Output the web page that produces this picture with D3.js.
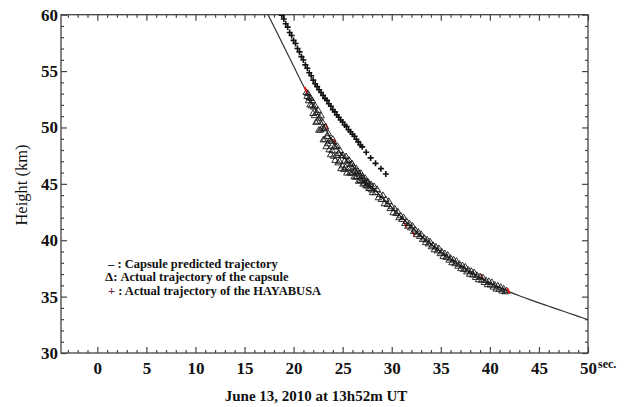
<!DOCTYPE html>
<html>
<head>
<meta charset="utf-8">
<script src="https://cdn.jsdelivr.net/npm/d3@7/dist/d3.min.js"></script>
<style>
  html, body { margin: 0; padding: 0; background: #fff; }
  svg { display: block; }
</style>
</head>
<body>
<svg id="chart" width="631" height="407"></svg>
<script>
// ---------------- DATA ----------------
const xTickLabels = [0, 5, 10, 15, 20, 25, 30, 35, 40, 45, 50];
const yTickLabels = [30, 35, 40, 45, 50, 55, 60];

// Capsule predicted trajectory (time s, height km)
const predT = [17.4, 18, 19, 20, 21, 21.3, 22, 23, 24, 25, 26, 27, 28, 29, 30, 31, 32, 33, 34, 35, 36, 37, 38, 39, 40, 41, 42, 43, 44, 45, 46, 47, 48, 49, 50];
const predH = [60.0, 58.95, 57.2, 55.45, 53.7, 53.2, 52.0, 50.3, 48.75, 47.5, 46.55, 45.6, 44.7, 43.81, 42.92, 42.04, 41.2, 40.37, 39.65, 38.98, 38.35, 37.76, 37.2, 36.67, 36.2, 35.78, 35.42, 35.08, 34.76, 34.45, 34.15, 33.85, 33.55, 33.25, 32.95];

// Actual trajectory of the capsule (triangles)
const capT = [21.30,21.38,21.45,21.53,21.60,21.68,21.75,21.83,21.90,21.98,22.05,22.13,22.20,22.28,22.35,22.43,22.50,22.58,22.65,22.73,22.80,22.88,22.95,23.03,23.10,23.18,23.25,23.33,23.40,23.48,23.55,23.63,23.70,23.78,23.85,23.93,24.00,24.08,24.15,24.23,24.30,24.38,24.45,24.53,24.60,24.68,24.75,24.83,24.90,24.98,25.05,25.13,25.20,25.28,25.35,25.43,25.50,25.58,25.65,25.73,25.80,25.88,25.95,26.03,26.10,26.18,26.25,26.33,26.40,26.48,26.55,26.63,26.70,26.78,26.85,26.93,27.00,27.08,27.15,27.23,27.30,27.38,27.45,27.53,27.60,27.68,27.75,27.83,27.90,27.98,
  28.05,28.20,28.35,28.50,28.65,28.80,28.95,29.10,29.25,29.40,29.55,29.70,29.85,30.00,30.15,30.30,30.45,30.60,30.75,30.90,31.05,31.20,31.35,31.50,31.65,31.80,31.95,32.10,32.25,32.40,32.55,32.70,32.85,33.00,33.15,33.30,33.45,33.60,33.75,33.90,34.05,34.20,34.35,34.50,34.65,34.80,34.95,35.10,35.25,35.40,35.55,35.70,35.85,36.00,36.15,36.30,36.45,36.60,36.75,36.90,37.05,37.20,37.35,37.50,37.65,37.80,37.95,38.10,38.25,38.40,38.55,38.70,38.85,39.00,39.15,39.30,39.45,39.60,39.75,39.90,40.05,40.20,40.35,40.50,40.65,40.80,40.95,41.10,41.25,41.40,41.55,41.70];
const capH = [53.15,52.80,53.07,52.42,52.70,52.05,52.62,51.97,52.44,51.29,51.86,51.10,51.96,50.50,51.37,50.60,51.57,49.81,50.88,49.82,51.08,49.93,50.50,48.95,49.94,49.00,50.08,48.35,49.24,48.61,49.50,48.07,48.86,47.63,48.82,48.00,49.00,47.50,48.32,47.13,48.36,47.57,48.40,46.91,47.74,47.05,47.98,46.40,47.54,46.65,47.57,46.32,47.07,46.51,47.47,46.01,47.07,46.41,47.16,46.01,46.76,46.00,46.85,46.04,46.57,45.68,46.21,45.64,46.38,45.71,46.15,45.28,45.92,45.35,45.99,45.33,45.70,45.03,45.47,45.10,45.54,44.88,45.23,44.86,45.20,44.64,44.99,44.62,44.97,44.51,
  44.26,44.82,44.29,44.56,43.82,44.09,43.66,44.02,43.29,43.66,43.22,43.49,42.86,43.02,42.49,42.85,42.42,42.58,42.05,42.22,41.89,42.07,41.54,41.72,41.29,41.52,41.14,41.32,40.84,40.97,40.54,40.77,40.39,40.57,40.11,40.25,39.84,40.08,39.73,39.92,39.47,39.61,39.21,39.46,39.11,39.31,38.86,39.02,38.62,38.87,38.53,38.73,38.29,38.45,38.06,38.32,37.98,38.19,37.75,37.92,37.53,37.80,37.46,37.68,37.25,37.41,37.03,37.30,36.97,37.18,36.75,36.93,36.55,36.82,36.50,36.73,36.30,36.48,36.11,36.40,36.08,36.31,35.90,36.08,35.72,36.01,35.70,35.89,35.54,35.74,35.48,35.58];

// Actual trajectory of the HAYABUSA (crosses)
const hayT = [18.80,19.00,19.20,19.40,19.60,19.80,20.00,20.20,20.40,20.60,20.80,21.00,21.20,21.40,21.60,21.80,22.00,22.20,22.40,22.60,22.80,23.00,23.20,23.40,23.60,23.80,24.00,24.20,24.40,24.60,24.80,25.00,25.20,25.40,25.60,25.80,26.00,26.20,26.40,26.60,26.80,27.00,27.40,27.85,28.35,28.90,29.40];
const hayH = [59.95,59.62,59.20,58.90,58.42,58.15,57.72,57.45,57.00,56.70,56.28,55.98,55.55,55.25,54.85,54.58,54.20,53.88,53.62,53.35,53.10,52.85,52.58,52.40,52.10,51.88,51.58,51.38,51.12,50.90,50.66,50.48,50.22,50.08,49.80,49.62,49.40,49.22,48.95,48.72,48.45,48.28,47.80,47.30,46.82,46.35,45.88];

// small red marks seen on the track
const redT = [21.25, 23.38, 24.2, 31.4, 32.2, 39.2, 41.9];
const redH = [53.35, 50.1, 48.75, 41.35, 40.6, 36.75, 35.5];

const legendSyms = ["\u2013 ", "\u0394", "+ "];
const legendTexts = [": Capsule predicted trajectory", ": Actual trajectory of the capsule", ": Actual trajectory of the HAYABUSA"];
const xUnit = "sec.";
const yTitle = "Height (km)";
const xTitle = "June 13, 2010 at 13h52m UT";

// ---------------- CHART ----------------
const svg = d3.select("#chart");
const L = 61, R = 588, T = 14.7, B = 353;
const x = d3.scaleLinear().domain([-3.7, 50]).range([L, R]);
const y = d3.scaleLinear().domain([30, 60]).range([B, T]);
const serif = "'Liberation Serif','Times New Roman',serif";
const axisColor = "#444";

const xMinor = d3.range(-3, 51, 1).filter(v => v % 5 !== 0);
const yMinor = d3.range(30, 61, 1).filter(v => v % 5 !== 0);

function styleAxis(g) {
  g.select(".domain").remove();
  g.selectAll(".tick line").attr("stroke", axisColor).attr("stroke-width", 1.2);
  g.selectAll("text").attr("font-family", serif).attr("font-weight", "bold")
    .attr("font-size", 17).attr("fill", "#111");
}

// bottom
svg.append("g").attr("transform", `translate(0,${B})`)
  .call(d3.axisBottom(x).tickValues(xTickLabels).tickSize(-6).tickPadding(9).tickFormat(d3.format("d")))
  .call(styleAxis);
svg.append("g").attr("transform", `translate(0,${B})`)
  .call(d3.axisBottom(x).tickValues(xMinor).tickSize(-3).tickFormat(""))
  .call(styleAxis);
// top
svg.append("g").attr("transform", `translate(0,${T})`)
  .call(d3.axisTop(x).tickValues(xTickLabels).tickSize(-6).tickFormat(""))
  .call(styleAxis);
svg.append("g").attr("transform", `translate(0,${T})`)
  .call(d3.axisTop(x).tickValues(xMinor).tickSize(-3).tickFormat(""))
  .call(styleAxis);
// left
svg.append("g").attr("transform", `translate(${L},0)`)
  .call(d3.axisLeft(y).tickValues(yTickLabels).tickSize(-6).tickPadding(3).tickFormat(d3.format("d")))
  .call(styleAxis);
svg.append("g").attr("transform", `translate(${L},0)`)
  .call(d3.axisLeft(y).tickValues(yMinor).tickSize(-3).tickFormat(""))
  .call(styleAxis);
// right
svg.append("g").attr("transform", `translate(${R},0)`)
  .call(d3.axisRight(y).tickValues(yTickLabels).tickSize(-6).tickFormat(""))
  .call(styleAxis);
svg.append("g").attr("transform", `translate(${R},0)`)
  .call(d3.axisRight(y).tickValues(yMinor).tickSize(-3).tickFormat(""))
  .call(styleAxis);

// frame
svg.append("rect").attr("x", L).attr("y", T).attr("width", R - L).attr("height", B - T)
  .attr("fill", "none").attr("stroke", axisColor).attr("stroke-width", 1.3);

// clip
svg.append("clipPath").attr("id", "plotclip").append("rect")
  .attr("x", L).attr("y", T).attr("width", R - L).attr("height", B - T);
const plot = svg.append("g").attr("clip-path", "url(#plotclip)");

// predicted line
const predData = predT.map((t, i) => [t, predH[i]]);
plot.append("path").datum(predData)
  .attr("d", d3.line().x(d => x(d[0])).y(d => y(d[1])).curve(d3.curveMonotoneX))
  .attr("fill", "none").attr("stroke", "#333").attr("stroke-width", 1.2);

// red marks (under the triangles)
const redData = redT.map((t, i) => [t, redH[i]]);
plot.append("g").selectAll("path").data(redData).join("path")
  .attr("transform", d => `translate(${x(d[0])},${y(d[1])}) rotate(-25)`)
  .attr("d", "M0,-3V3")
  .attr("fill", "none").attr("stroke", "#e01010").attr("stroke-width", 1.6);

// triangles
const capData = capT.map((t, i) => [t, capH[i]]);
plot.append("g").selectAll("path").data(capData).join("path")
  .attr("transform", d => `translate(${x(d[0])},${y(d[1])})`)
  .attr("d", "M0,-3L3.3,2.6L-3.3,2.6Z")
  .attr("fill", "none").attr("stroke", "#1a1a1a").attr("stroke-width", 0.9);

// crosses
const hayData = hayT.map((t, i) => [t, hayH[i]]);
plot.append("g").selectAll("path").data(hayData).join("path")
  .attr("transform", d => `translate(${x(d[0])},${y(d[1])})`)
  .attr("d", "M-3,0H3M0,-3V3")
  .attr("fill", "none").attr("stroke", "#111").attr("stroke-width", 1.6);

// end red marks on top
plot.append("g").selectAll("path").data([redData[0], redData[redData.length - 1]]).join("path")
  .attr("transform", d => `translate(${x(d[0])},${y(d[1])}) rotate(-25)`)
  .attr("d", "M0,-3V3")
  .attr("fill", "none").attr("stroke", "#e01010").attr("stroke-width", 1.6);

// legend
const legY = [267.5, 281, 294.5];
const legX = [108, 105, 108];
const symSize = [12.5, 13, 12.5];
const symColor = ["#111", "#111", "#6a2346"];
const leg = svg.append("g").attr("font-family", serif).attr("font-weight", "bold").attr("font-size", 12.5).attr("fill", "#111");
legendTexts.forEach((txt, i) => {
  const t = leg.append("text").attr("x", legX[i]).attr("y", legY[i]);
  t.append("tspan").attr("font-size", symSize[i]).attr("font-weight", "bold")
    .attr("fill", symColor[i]).text(legendSyms[i]);
  t.append("tspan").text(txt);
});

// unit label
svg.append("text").attr("x", 598).attr("y", 368).attr("font-family", serif)
  .attr("font-weight", "bold").attr("font-size", 12).attr("fill", "#111").text(xUnit);

// y title
svg.append("text").attr("transform", "translate(27,185) rotate(-90)")
  .attr("text-anchor", "middle").attr("font-family", serif).attr("font-size", 16.5)
  .attr("fill", "#111").text(yTitle);

// x title
svg.append("text").attr("x", 316).attr("y", 401).attr("text-anchor", "middle")
  .attr("font-family", serif).attr("font-weight", "bold").attr("font-size", 15)
  .attr("fill", "#111").text(xTitle);
</script>
</body>
</html>
